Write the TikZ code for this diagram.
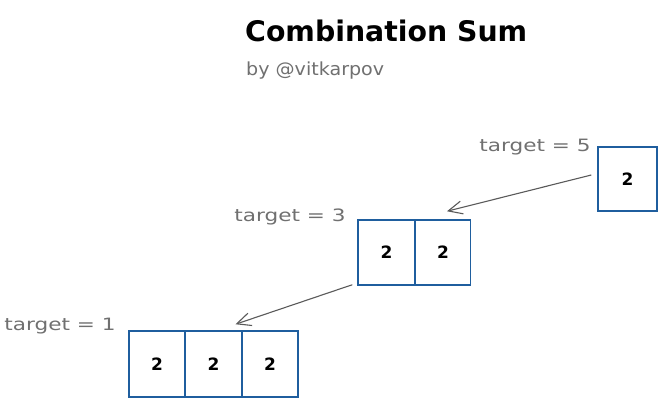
\documentclass[tikz,border=0pt]{standalone}
\usepackage{fontspec}
\setmainfont{DejaVu Sans}
\usetikzlibrary{arrows.meta,calc}
\definecolor{boxblue}{HTML}{1F5E9E}
\definecolor{labgray}{HTML}{707070}
\definecolor{arrgray}{HTML}{5A5A5A}
\tikzset{
  cell/.style={draw=boxblue, line width=1.5pt, fill=white, minimum width=57pt, minimum height=64pt, inner sep=0pt, font=\fontsize{17}{17}\selectfont\bfseries},
  lbl/.style={text=labgray, inner sep=0pt, font=\fontsize{17}{17}\selectfont},
  arr/.style={draw=arrgray, line width=1.1pt, -{Straight Barb[length=14pt,width=13pt,line width=1.1pt]}}
}
\begin{document}
\begin{tikzpicture}[x=1pt,y=-1pt]
\useasboundingbox (0,0) rectangle (666,406);
\fill[white] (0,0) rectangle (666,406);
% title
\node[inner sep=0pt, anchor=west, font=\fontsize{28}{28}\selectfont\bfseries] (title) at (245,31) {\resizebox{282pt}{!}{Combination Sum}};
\node[inner sep=0pt, anchor=west, text=labgray, font=\fontsize{18}{18}\selectfont] (sub) at (246,71) {\scalebox{1.06}[1]{by @vitkarpov}};
% boxes
\node[cell, minimum width=59pt] (b5) at (627.5,179) {2};
\node[cell, minimum width=57pt, minimum height=65pt] (b3a) at (386.5,252.5) {2};
\node[cell, minimum width=55pt, minimum height=65pt] (b3b) at (443,252.5) {2};
\node[cell, minimum width=56pt, minimum height=66pt] (b1a) at (157,364) {2};
\node[cell, minimum width=57pt, minimum height=66pt] (b1b) at (213.5,364) {2};
\node[cell, minimum width=56pt, minimum height=66pt] (b1c) at (270,364) {2};
% labels
\node[lbl] (l5) at (535,147) {\scalebox{1.27}[1]{target = 5}};
\node[lbl] (l3) at (290,217) {\scalebox{1.27}[1]{target = 3}};
\node[lbl] (l1) at (60,326) {\scalebox{1.27}[1]{target = 1}};
% arrows
\draw[arr] ([xshift=-6pt,yshift=4pt]b5.west) -- ([xshift=4pt,yshift=8pt]b3b.north);
\draw[arr] ([xshift=-5pt,yshift=1pt]b3a.south west) -- ([xshift=22pt,yshift=6pt]b1b.north);
\end{tikzpicture}
\end{document}
